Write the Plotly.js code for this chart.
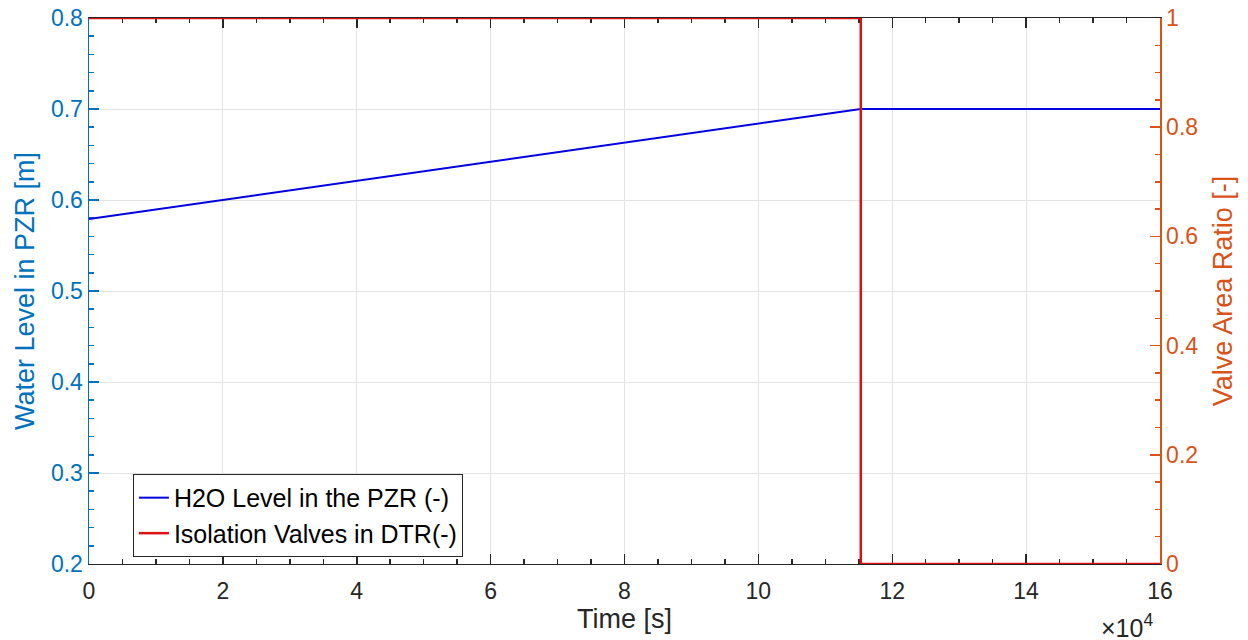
<!DOCTYPE html>
<html>
<head>
<meta charset="utf-8">
<script src="https://cdn.plot.ly/plotly-3.0.1.min.js"></script>
<style>html,body{margin:0;padding:0;background:#fff;}#chart{width:1248px;height:640px;}</style>
</head>
<body>
<div id="chart"></div>
<script>
// Data
const levelTime = [0, 115300, 160000];
const levelValue = [0.579, 0.700, 0.700];
const valveTime = [0, 115300, 115300, 160000];
const valveValue = [1, 1, 0, 0];
const xTickVals = [0, 20000, 40000, 60000, 80000, 100000, 120000, 140000, 160000];
const xTickText = ['0', '2', '4', '6', '8', '10', '12', '14', '16'];
const yLeftTicks = [0.2, 0.3, 0.4, 0.5, 0.6, 0.7, 0.8];
const yRightTicks = [0, 0.2, 0.4, 0.6, 0.8, 1];

const fontFam = '"Liberation Sans", Arial, Helvetica, sans-serif';
const leftColor = '#0072BD';
const rightColor = '#D95319';
const axisGray = '#262626';

const traces = [
  {x: levelTime, y: levelValue, type: 'scatter', mode: 'lines', name: 'H2O Level in the PZR (-)',
   line: {color: '#0000E0', width: 2}, yaxis: 'y'},
  {x: valveTime, y: valveValue, type: 'scatter', mode: 'lines', name: 'Isolation Valves in DTR(-)',
   line: {color: '#E01010', width: 2.5}, yaxis: 'y2'}
];

const layout = {
  width: 1248, height: 640,
  margin: {l: 89, r: 88, t: 18, b: 76},
  paper_bgcolor: '#fff', plot_bgcolor: '#fff',
  font: {family: fontFam, size: 23, color: axisGray},
  showlegend: true,
  legend: {x: 0.041, y: 0.165, xanchor: 'left', yanchor: 'top', bgcolor: '#fff',
           bordercolor: axisGray, borderwidth: 1, font: {size: 25, color: '#000'},
           tracegroupgap: 0, itemwidth: 30},
  xaxis: {
    range: [0, 160000], tickvals: xTickVals, ticktext: xTickText, layer: 'below traces',
    showline: true, linecolor: axisGray, linewidth: 1, mirror: 'ticks',
    ticks: 'inside', ticklen: 10, tickcolor: axisGray, tickwidth: 1.5,
    showgrid: true, gridcolor: '#E3E3E3', gridwidth: 1, zeroline: false,
    tickfont: {size: 23, color: axisGray}, ticklabelstandoff: 6,
    minor: {dtick: 5000, ticks: 'inside', ticklen: 5, tickcolor: axisGray, showgrid: false},
    title: {text: 'Time [s]', font: {size: 27, color: axisGray}, standoff: 6}
  },
  yaxis: {
    range: [0.2, 0.8], tickvals: yLeftTicks, ticktext: yLeftTicks.map(v => v.toFixed(1)), layer: 'below traces',
    showline: true, linecolor: leftColor, linewidth: 1.5,
    ticks: 'inside', ticklen: 10, tickcolor: leftColor, tickwidth: 1.5,
    showgrid: true, gridcolor: '#E3E3E3', gridwidth: 1, zeroline: false,
    tickfont: {size: 23, color: leftColor},
    minor: {dtick: 0.02, ticks: 'inside', ticklen: 5, tickcolor: leftColor, showgrid: false},
    title: {text: 'Water Level in PZR [m]', font: {size: 27, color: leftColor}, standoff: 8}
  },
  yaxis2: {
    overlaying: 'y', side: 'right', range: [0, 1], tickvals: yRightTicks, layer: 'below traces',
    ticktext: yRightTicks.map(v => (v === 0 || v === 1) ? String(v) : v.toFixed(1)),
    showline: true, linecolor: rightColor, linewidth: 1.5,
    ticks: 'inside', ticklen: 10, tickcolor: rightColor, tickwidth: 1.5,
    showgrid: false, zeroline: false,
    tickfont: {size: 23, color: rightColor},
    minor: {dtick: 0.05, ticks: 'inside', ticklen: 5, tickcolor: rightColor, showgrid: false},
    title: {text: 'Valve Area Ratio [-]', font: {size: 27, color: rightColor}, standoff: 16}
  },
  annotations: [
    {xref: 'paper', yref: 'paper', x: 1.0, y: 0, xanchor: 'center', yanchor: 'top', yshift: -44, xshift: -33,
     text: '×10<sup>4</sup>', showarrow: false, font: {size: 25, color: axisGray}}
  ]
};

Plotly.newPlot('chart', traces, layout, {displayModeBar: false, staticPlot: true});
</script>
</body>
</html>
